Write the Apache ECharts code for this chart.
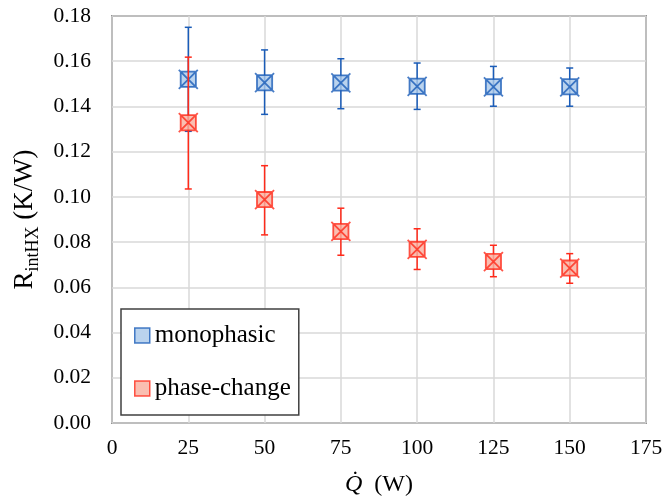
<!DOCTYPE html>
<html>
<head>
<meta charset="utf-8">
<script src="https://cdn.jsdelivr.net/npm/echarts@6/dist/echarts.min.js"></script>
<style>
  html, body { margin: 0; padding: 0; background: #fff; }
  #chart { width: 666px; height: 502px; }
</style>
</head>
<body>
<div id="chart"></div>
<script>
// heat load Q (W)
let heatLoads = [25, 50, 75, 100, 125, 150];

// monophasic R (K/W) with error bounds
let monoValues = [0.152, 0.1505, 0.1504, 0.1489, 0.1487, 0.1487];
let monoLow = [0.129, 0.1365, 0.139, 0.1387, 0.1401, 0.1401];
let monoHigh = [0.175, 0.165, 0.1611, 0.1592, 0.1577, 0.157];

// phase-change R (K/W) with error bounds
let phaseValues = [0.1328, 0.0988, 0.0847, 0.0768, 0.0714, 0.0685];
let phaseLow = [0.1035, 0.0832, 0.0742, 0.0679, 0.0647, 0.0618];
let phaseHigh = [0.1618, 0.1138, 0.0950, 0.0859, 0.0786, 0.0749];

let blue = '#1a5cb8';
let red = '#ff2a1a';
let font = '"Liberation Serif", "Times New Roman", serif';

// square with a cross, X a bit longer than the box
let crossBox = 'path://M0,0L16,0L16,16L0,16Z M-2,-2L18,18 M18,-2L-2,18';

let chart = echarts.init(document.getElementById('chart'));

let errorBars = function (color) {
  return function (params, api) {
    let x = api.value(0);
    let lo = api.coord([x, api.value(1)]);
    let hi = api.coord([x, api.value(2)]);
    let w = 3.5;
    let st = { stroke: color, lineWidth: 1.5 };
    return {
      type: 'group',
      children: [
        { type: 'line', shape: { x1: hi[0], y1: hi[1], x2: lo[0], y2: lo[1] }, style: st },
        { type: 'line', shape: { x1: hi[0] - w, y1: hi[1], x2: hi[0] + w, y2: hi[1] }, style: st },
        { type: 'line', shape: { x1: lo[0] - w, y1: lo[1], x2: lo[0] + w, y2: lo[1] }, style: st }
      ]
    };
  };
};

let zip = function (a, b) { return a.map(function (v, i) { return [v, b[i]]; }); };
let zip3 = function (a, b, c) { return a.map(function (v, i) { return [v, b[i], c[i]]; }); };

chart.setOption({
  backgroundColor: '#fff',
  animation: false,
  textStyle: { fontFamily: font },
  grid: {
    left: 112, right: 20, top: 16, bottom: 76,
    show: true, borderColor: '#404040', borderWidth: 1.5
  },
  legend: {
    orient: 'vertical',
    left: 121, top: 309,
    padding: [14, 8, 14, 13],
    itemGap: 28,
    itemWidth: 15, itemHeight: 15,
    borderColor: '#404040', borderWidth: 1.5,
    backgroundColor: '#fff',
    textStyle: { fontFamily: font, fontSize: 25, color: '#000' },
    data: [
      { name: 'monophasic', icon: 'rect', itemStyle: { color: '#a9c8ea', borderColor: blue, borderWidth: 1.5 } },
      { name: 'phase-change', icon: 'rect', itemStyle: { color: '#f9ae9e', borderColor: red, borderWidth: 1.5 } }
    ]
  },
  xAxis: {
    type: 'value',
    min: 0, max: 175, interval: 25,
    axisLine: { show: false },
    axisTick: { show: false },
    axisLabel: { fontFamily: font, fontSize: 21.5, color: '#000', margin: 14 },
    splitLine: { show: true, lineStyle: { color: '#d9d9d9', width: 1.5 } },
    name: '{q|Q\u0307}  (W)',
    nameLocation: 'middle',
    nameGap: 50,
    nameTextStyle: {
      fontFamily: font, fontSize: 24, color: '#000',
      rich: { q: { fontFamily: font, fontSize: 24, fontStyle: 'italic', color: '#000' } }
    }
  },
  yAxis: {
    type: 'value',
    min: 0, max: 0.18, interval: 0.02,
    axisLine: { show: false },
    axisTick: { show: false },
    axisLabel: {
      fontFamily: font, fontSize: 21.5, color: '#000', margin: 21,
      formatter: function (v) { return v.toFixed(2); }
    },
    splitLine: { show: true, lineStyle: { color: '#d9d9d9', width: 1.5 } },
    name: '{r|R}{s|intHX}{r| (K/W)}',
    nameLocation: 'middle',
    nameGap: 70,
    nameTextStyle: {
      fontFamily: font, color: '#000',
      rich: {
        r: { fontFamily: font, fontSize: 27, color: '#000', lineHeight: 34, verticalAlign: 'middle' },
        s: { fontFamily: font, fontSize: 18, color: '#000', lineHeight: 34, verticalAlign: 'bottom', padding: [11, 0, 0, 0] }
      }
    }
  },
  series: [
    {
      name: 'monoErr',
      type: 'custom',
      renderItem: errorBars(blue),
      data: zip3(heatLoads, monoLow, monoHigh),
      z: 2
    },
    {
      name: 'monophasic',
      type: 'scatter',
      symbol: crossBox,
      symbolSize: 19,
      itemStyle: { color: '#a9c8ea', borderColor: blue, borderWidth: 1.8 },
      data: zip(heatLoads, monoValues),
      z: 3
    },
    {
      name: 'phaseErr',
      type: 'custom',
      renderItem: errorBars(red),
      data: zip3(heatLoads, phaseLow, phaseHigh),
      z: 4
    },
    {
      name: 'phase-change',
      type: 'scatter',
      symbol: crossBox,
      symbolSize: 19,
      itemStyle: { color: '#f9ae9e', borderColor: red, borderWidth: 1.8 },
      data: zip(heatLoads, phaseValues),
      z: 5
    }
  ]
});

window.onresize = function () {
  chart.resize();
};
</script>
</body>
</html>
